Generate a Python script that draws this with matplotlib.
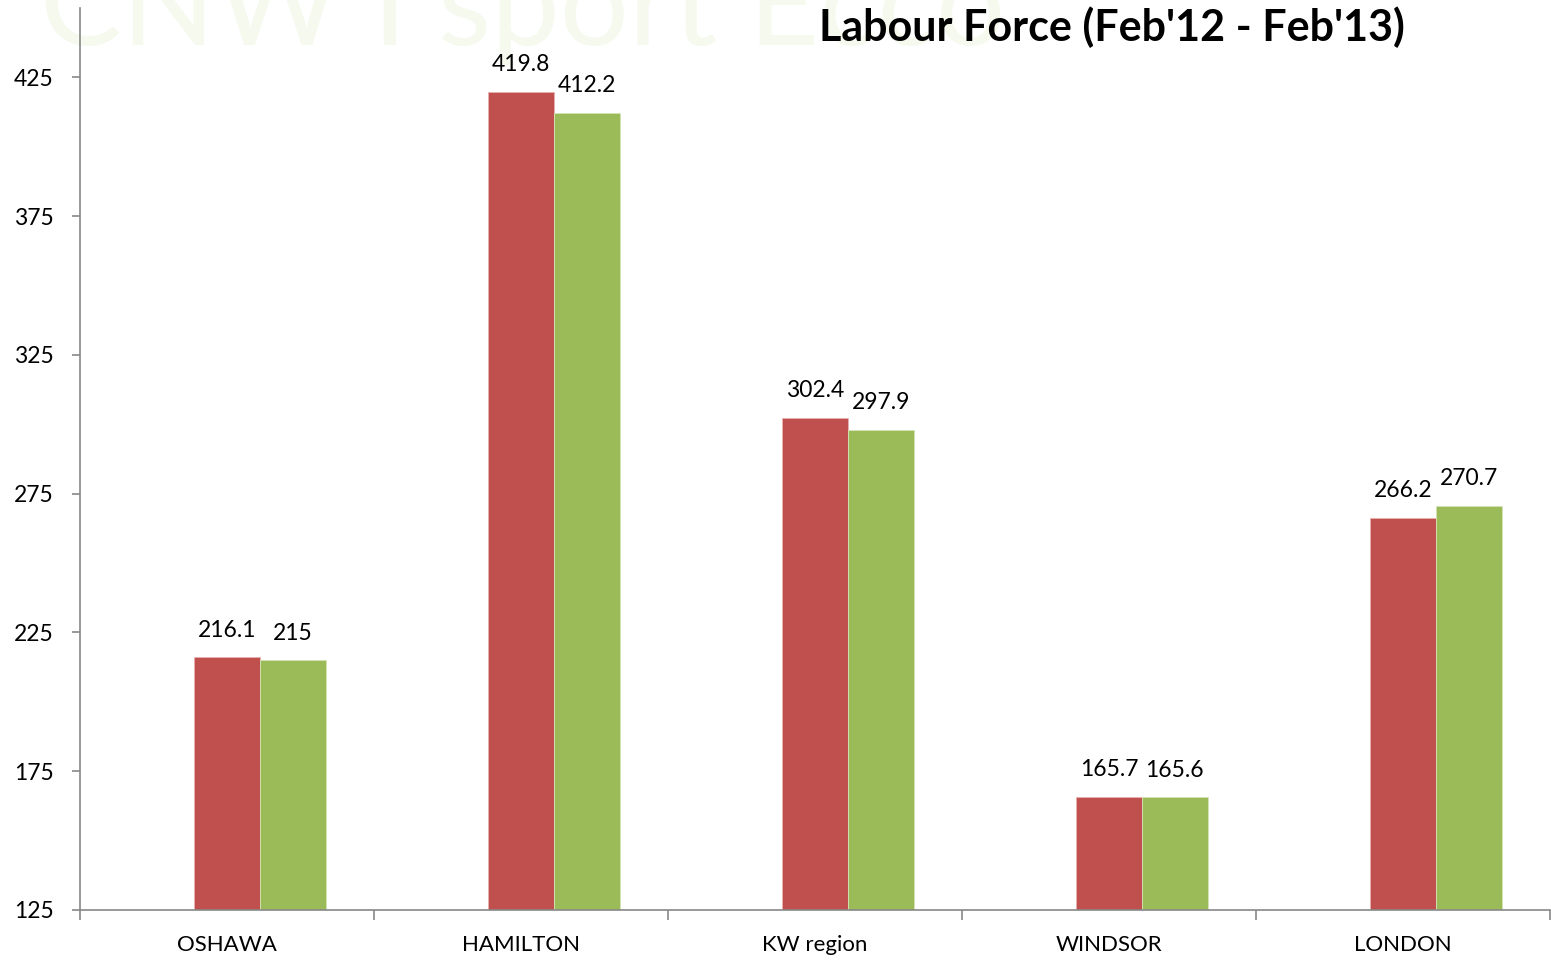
import matplotlib
matplotlib.use("Agg")
import matplotlib.pyplot as plt
import numpy as np

categories = ["OSHAWA", "HAMILTON", "KW region", "WINDSOR", "LONDON"]
feb12 = [216.1, 419.8, 302.4, 165.7, 266.2]
feb13 = [215, 412.2, 297.9, 165.6, 270.7]
labels12 = ["216.1", "419.8", "302.4", "165.7", "266.2"]
labels13 = ["215", "412.2", "297.9", "165.6", "270.7"]
yticks = [125, 175, 225, 275, 325, 375, 425]

plt.rcParams['font.family'] = ['Lato', 'DejaVu Sans']

fig = plt.figure(figsize=(15.51, 9.6), dpi=100)
ax = fig.add_axes([80/1551, 1-910/960, 1470/1551, 902/960])
ax.patch.set_visible(False)

fig.text(40/1551, 1-45/960, "CNW I sport Ecco", fontsize=88, color="#f6f9ee",
         ha="left", va="baseline", zorder=-10)

x = np.arange(len(categories))
w = 0.224
ax.bar(x, np.array(feb12) - 125, w, bottom=125, color="#C0504D",
       edgecolor="#e8b0ae", linewidth=0.6)
ax.bar(x + w, np.array(feb13) - 125, w, bottom=125, color="#9BBB59",
       edgecolor="#d5e4b8", linewidth=0.6)
for i in range(len(categories)):
    ax.text(x[i], feb12[i] + 6.0, labels12[i], ha="center", va="bottom", fontsize=16.5)
    ax.text(x[i] + w, feb13[i] + 6.0, labels13[i], ha="center", va="bottom", fontsize=16.5)

ax.set_xlim(-0.5, len(categories) - 0.5)
ax.set_ylim(125, 450)
ax.set_yticks(yticks)
ax.set_yticklabels([str(t) for t in yticks], fontsize=16.5)
ax.set_xticks(x)
ax.set_xticklabels(categories, fontsize=16)
ax.tick_params(axis='x', length=0, pad=18)
ax.set_xticks(np.arange(-0.5, len(categories) + 0.5, 1), minor=True)
ax.tick_params(axis='x', which='minor', length=7, color="#888888", width=1.2)
ax.tick_params(axis='y', length=6, color="#888888", width=1.2, pad=13)

for s in ['top', 'right']:
    ax.spines[s].set_visible(False)
for s in ['left', 'bottom']:
    ax.spines[s].set_color("#888888")
    ax.spines[s].set_linewidth(1.2)

fig.text(1112/1551, 1-27/960, "Labour Force (Feb'12 - Feb'13)", fontsize=31,
         fontweight="bold", ha="center", va="center")

fig.savefig("out.png", dpi=100)
